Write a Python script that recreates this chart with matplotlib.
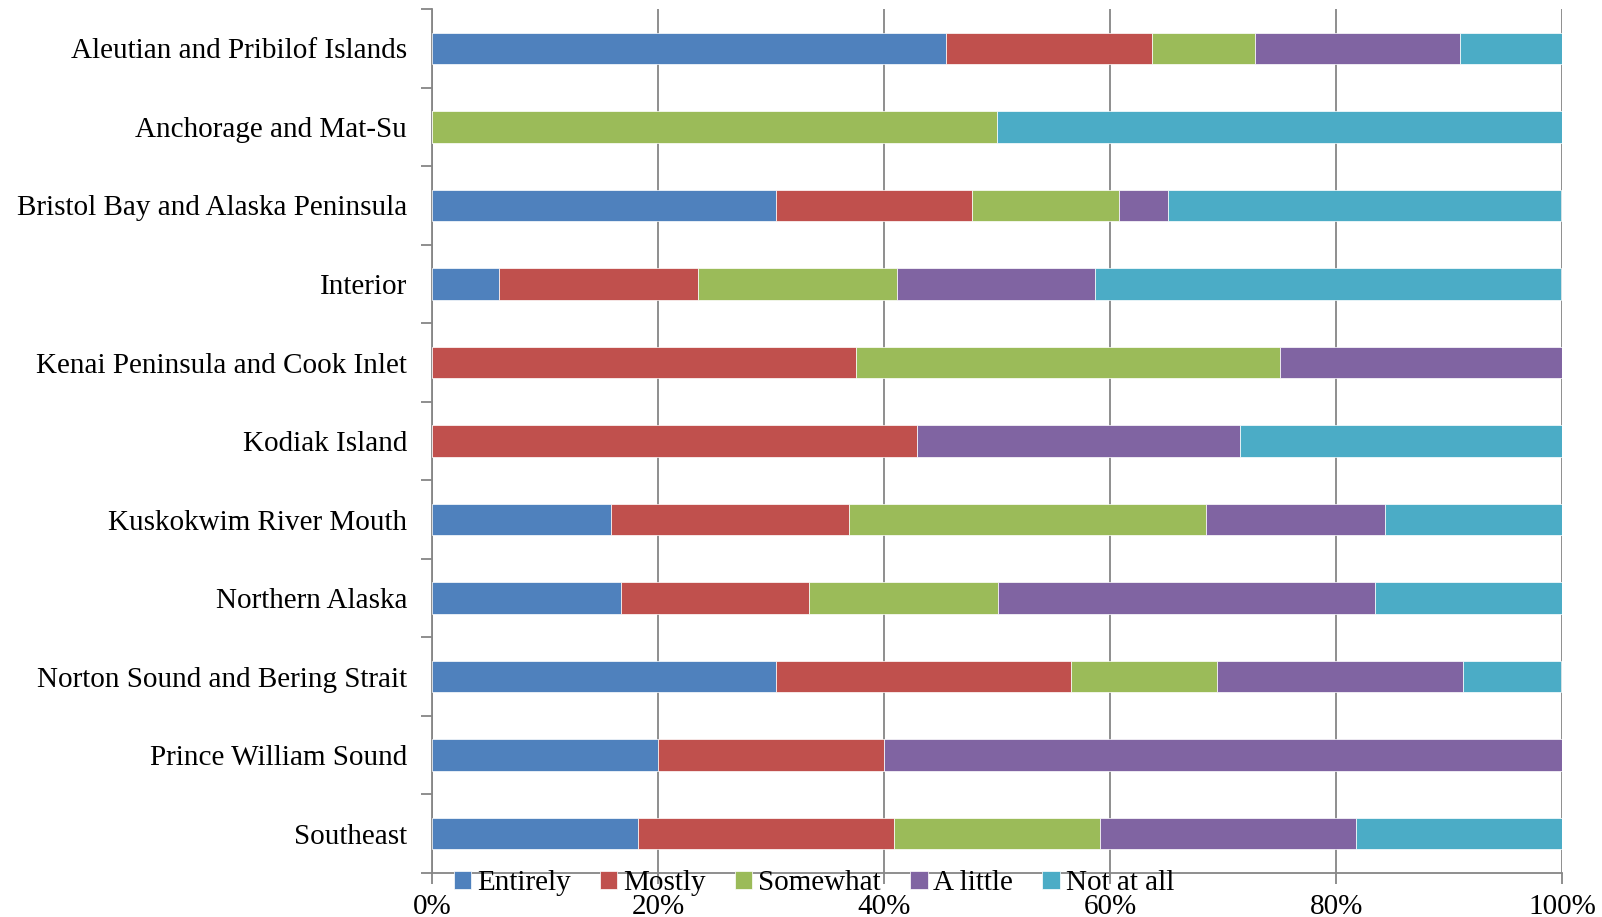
import numpy as np
import matplotlib
matplotlib.use("Agg")
from matplotlib import pyplot as plt
from matplotlib.ticker import FixedLocator, PercentFormatter

plt.rcParams['font.family'] = ['Liberation Serif', 'DejaVu Serif']

regions = [
    'Aleutian and Pribilof Islands',
    'Anchorage and Mat-Su',
    'Bristol Bay and Alaska Peninsula',
    'Interior',
    'Kenai Peninsula and Cook Inlet',
    'Kodiak Island',
    'Kuskokwim River Mouth',
    'Northern Alaska',
    'Norton Sound and Bering Strait',
    'Prince William Sound',
    'Southeast',
]

# share of responses per region (percent)
entirely  = [45.5, 0.0, 30.4, 5.9, 0.0, 0.0, 15.8, 16.7, 30.4, 20.0, 18.2]
mostly    = [18.2, 0.0, 17.4, 17.6, 37.5, 42.9, 21.1, 16.7, 26.1, 20.0, 22.7]
somewhat  = [9.1, 50.0, 13.0, 17.6, 37.5, 0.0, 31.6, 16.7, 13.0, 0.0, 18.2]
a_little  = [18.2, 0.0, 4.3, 17.6, 25.0, 28.6, 15.8, 33.3, 21.7, 60.0, 22.7]
not_at_all = [9.1, 50.0, 34.8, 41.2, 0.0, 28.6, 15.8, 16.7, 8.7, 0.0, 18.2]

series = [
    ('Entirely', entirely, '#4F81BD'),
    ('Mostly', mostly, '#C0504D'),
    ('Somewhat', somewhat, '#9BBB59'),
    ('A little', a_little, '#8064A2'),
    ('Not at all', not_at_all, '#4BACC6'),
]

fig = plt.figure(figsize=(16.02, 9.17), dpi=100)
ax = fig.add_axes([0.2697, 0.048, 0.7054, 0.942])

y = np.arange(len(regions))
left = np.zeros(len(regions))
for name, vals, col in series:
    vals = np.array(vals)
    ax.barh(y, vals, left=left, height=0.4, color=col, label=name,
            edgecolor='white', linewidth=0.5, zorder=3)
    left += vals

ax.set_xlim(0, 100)
ax.set_ylim(len(regions) - 0.5, -0.5)
ax.set_yticks(y)
ax.set_yticklabels(regions, fontsize=21)
ax.yaxis.set_minor_locator(FixedLocator(np.arange(-0.5, len(regions), 1.0)))
ax.tick_params(axis='y', which='major', length=0, pad=18)
ax.tick_params(axis='y', which='minor', length=8, width=1.3, color='#868686')

ax.set_xticks(np.arange(0, 101, 20))
ax.xaxis.set_major_formatter(PercentFormatter(decimals=0))
ax.tick_params(axis='x', labelsize=21, length=8, width=1.3, color='#868686', pad=7)
ax.grid(axis='x', color='#868686', linewidth=1.3, zorder=0)

for side in ['top', 'right']:
    ax.spines[side].set_visible(False)
for side in ['left', 'bottom']:
    ax.spines[side].set_color('#868686')
    ax.spines[side].set_linewidth(1.3)

fig.legend(loc='center', bbox_to_anchor=(0.508, 0.037), ncol=5, frameon=False,
           fontsize=21, handlelength=0.6, handleheight=0.6, handletextpad=0.2,
           columnspacing=1.0, borderpad=0)

fig.savefig('out.png', dpi=100)
